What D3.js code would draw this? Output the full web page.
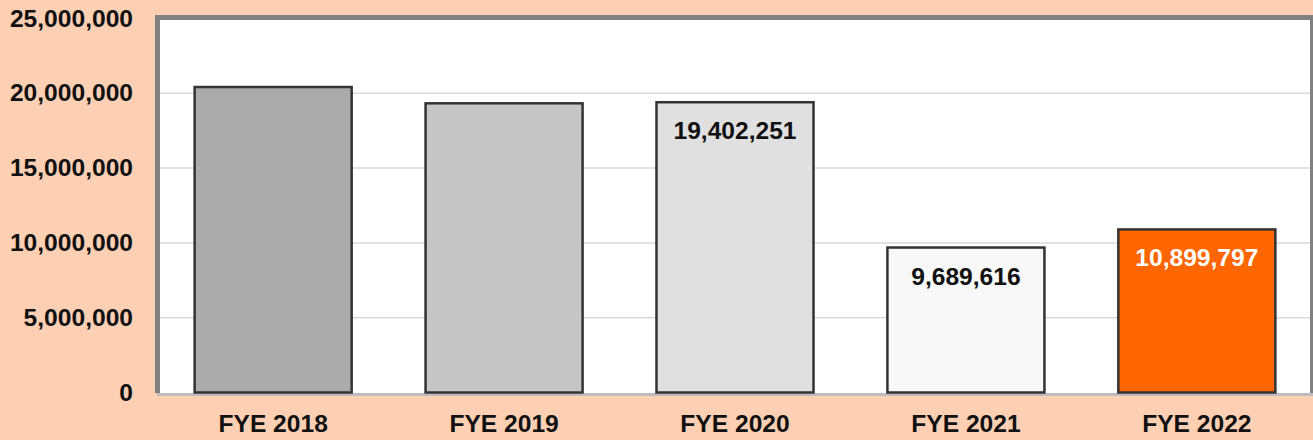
<!DOCTYPE html>
<html>
<head>
<meta charset="utf-8">
<script src="https://cdn.jsdelivr.net/npm/d3@7"></script>
<style>
  html, body { margin: 0; padding: 0; background: #fdcfb3; }
  svg { display: block; }
  text { font-family: "Liberation Sans", Arial, sans-serif; font-weight: bold; }
</style>
</head>
<body>
<svg id="chart" width="1313" height="440"></svg>
<script>
// Chart data
const categories = ["FYE 2018", "FYE 2019", "FYE 2020", "FYE 2021", "FYE 2022"];
const values = [20420000, 19330000, 19402251, 9689616, 10899797];
const barColors = ["#ababab", "#c6c6c6", "#e0e0e0", "#f8f8f8", "#ff6600"];
const labelText = [null, null, "19,402,251", "9,689,616", "10,899,797"];
const labelColors = [null, null, "#111", "#111", "#fff"];
const yTicks = [0, 5000000, 10000000, 15000000, 20000000, 25000000];

const svg = d3.select("#chart");
const stretch = 1.07; // text in the picture is a bit wider than it is tall

// Plot area (inner white region)
const plot = { left: 160, right: 1310, top: 20, bottom: 393 };

const x = d3.scaleBand()
  .domain(categories)
  .range([plot.left, plot.right])
  .paddingInner(0.32)
  .paddingOuter(0.15);

const y = d3.scaleLinear()
  .domain([0, 25000000])
  .range([392.5, 18.5]);

// Frame: gray border on left, top, right; light base line at bottom
svg.append("rect")
  .attr("x", 155).attr("y", 15)
  .attr("width", 1313 - 155).attr("height", plot.bottom - 15)
  .attr("fill", "#808080");
svg.append("rect")
  .attr("x", plot.left).attr("y", plot.top)
  .attr("width", plot.right - plot.left).attr("height", plot.bottom - plot.top)
  .attr("fill", "#fff");
svg.append("rect")
  .attr("x", 157).attr("y", 393)
  .attr("width", 1313 - 157).attr("height", 3)
  .attr("fill", "#bdbdbd");

// Gridlines
svg.append("g")
  .selectAll("line")
  .data(yTicks.filter(d => d > 0 && d < 25000000))
  .enter()
  .append("line")
  .attr("x1", plot.left)
  .attr("x2", plot.right)
  .attr("y1", d => y(d))
  .attr("y2", d => y(d))
  .attr("stroke", "#d9d9d9")
  .attr("stroke-width", 1.5);

// Y axis labels
const fmt = d3.format(",");
svg.append("g")
  .selectAll("text")
  .data(yTicks)
  .enter()
  .append("text")
  .attr("transform", d => `translate(133,${y(d)}) scale(${stretch},1)`)
  .attr("text-anchor", "end")
  .attr("dy", "0.35em")
  .attr("font-size", 23)
  .attr("fill", "#111")
  .text(d => fmt(d));

// Bars
svg.append("g")
  .selectAll("rect")
  .data(values)
  .enter()
  .append("rect")
  .attr("x", (d, i) => x(categories[i]))
  .attr("y", d => y(d))
  .attr("width", x.bandwidth())
  .attr("height", d => y(0) - y(d))
  .attr("fill", (d, i) => barColors[i])
  .attr("stroke", "#333")
  .attr("stroke-width", 2.5);

// Value labels inside bars
svg.append("g")
  .selectAll("text")
  .data(values.map((v, i) => ({ v, i })).filter(d => labelText[d.i]))
  .enter()
  .append("text")
  .attr("transform", d => `translate(${x(categories[d.i]) + x.bandwidth() / 2},${y(d.v) + 37}) scale(${stretch},1)`)
  .attr("text-anchor", "middle")
  .attr("font-size", 23)
  .attr("fill", d => labelColors[d.i])
  .text(d => labelText[d.i]);

// Category labels
svg.append("g")
  .selectAll("text")
  .data(categories)
  .enter()
  .append("text")
  .attr("transform", d => `translate(${x(d) + x.bandwidth() / 2},432) scale(${stretch},1)`)
  .attr("text-anchor", "middle")
  .attr("font-size", 23)
  .attr("fill", "#111")
  .text(d => d);
</script>
</body>
</html>
